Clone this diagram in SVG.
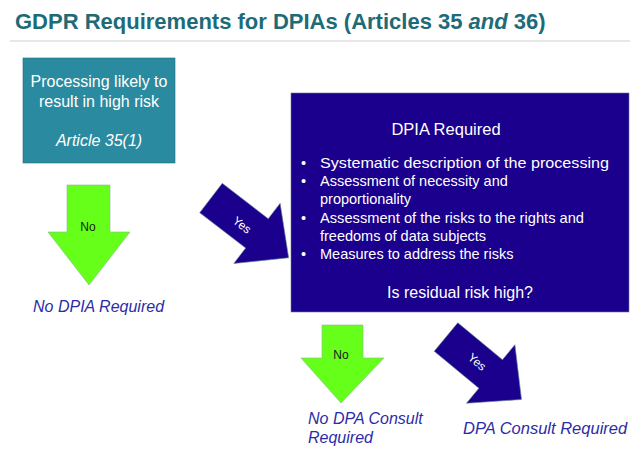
<svg xmlns="http://www.w3.org/2000/svg" width="640" height="452" viewBox="0 0 640 452">
<style>
text{font-family:"Liberation Sans",Arial,sans-serif}
.w{fill:#fff}
.lbl{fill:#2c2ca8;font-size:16px;font-style:italic}
.g{fill:#66ff1a;stroke:#8ab88a;stroke-width:0.6}
.b{fill:#1a008c;stroke:#6a8a9a;stroke-width:0.6}
</style>
<defs>
<polygon id="ya" points="0,-18.5 58,-18.5 58,-38 98,0 58,38 58,18.5 0,18.5"/>
</defs>
<rect width="640" height="452" fill="#fff"/>
<text x="15" y="29" font-size="22" font-weight="bold" fill="#1e6b78">GDPR Requirements for DPIAs (Articles 35 <tspan font-style="italic">and</tspan> 36)</text>
<line x1="10" y1="41" x2="630" y2="41" stroke="#d0d0d0" stroke-width="1.2"/>
<g id="start">
<rect x="23" y="58" width="152" height="105" fill="#2a8aa0" stroke="#1e6b78" stroke-width="0.6"/>
<text class="w" x="99" y="87" text-anchor="middle" style="font-size:16px">Processing likely to</text>
<text class="w" x="99" y="107" text-anchor="middle" style="font-size:16px">result in high risk</text>
<text class="w" x="99" y="146" text-anchor="middle" style="font-size:16px;font-style:italic">Article 35(1)</text>
</g>
<g id="dpia">
<rect x="291" y="93" width="338" height="219" fill="#1a008c" stroke="#6a7aa0" stroke-width="0.6"/>
<text class="w" x="446" y="135" text-anchor="middle" style="font-size:16.5px">DPIA Required</text>
<g class="w" style="font-size:14.5px">
<text x="301" y="168">•</text><text x="320" y="168" textLength="289" lengthAdjust="spacingAndGlyphs">Systematic description of the processing</text>
<text x="301" y="186">•</text><text x="320" y="186">Assessment of necessity and</text>
<text x="320" y="204">proportionality</text>
<text x="301" y="223">•</text><text x="320" y="223" textLength="264" lengthAdjust="spacingAndGlyphs">Assessment of the risks to the rights and</text>
<text x="320" y="241">freedoms of data subjects</text>
<text x="301" y="259">•</text><text x="320" y="259">Measures to address the risks</text>
</g>
<text class="w" x="460" y="298" text-anchor="middle" style="font-size:16px">Is residual risk high?</text>
</g>
<g id="noDpia"><text class="lbl" x="33" y="312">No DPIA Required</text></g>
<g id="noConsult"><text class="lbl" x="308" y="424">No DPA Consult</text><text class="lbl" x="308" y="443">Required</text></g>
<g id="consult"><text class="lbl" x="463" y="434" style="font-size:16.5px">DPA Consult Required</text></g>
<g id="connectors">
<polygon class="g" points="67,185 110,185 110,232 130,232 89,285 48,232 67,232"/>
<text x="88" y="231" text-anchor="middle" font-size="12" fill="#1a1a1a">No</text>
<use href="#ya" class="b" transform="translate(211,198) rotate(37.6)"/>
<text x="242" y="229" text-anchor="middle" font-size="12" fill="#fff" transform="rotate(37.6 242 225)">Yes</text>
<polygon class="g" points="322,325 363,325 363,358 384,358 341,403 301,358 322,358"/>
<text x="341" y="359" text-anchor="middle" font-size="12" fill="#1a1a1a">No</text>
<use href="#ya" class="b" transform="translate(446,337) rotate(39.6)"/>
<text x="477" y="366" text-anchor="middle" font-size="12" fill="#fff" transform="rotate(39.6 477 362)">Yes</text>
</g>
</svg>
